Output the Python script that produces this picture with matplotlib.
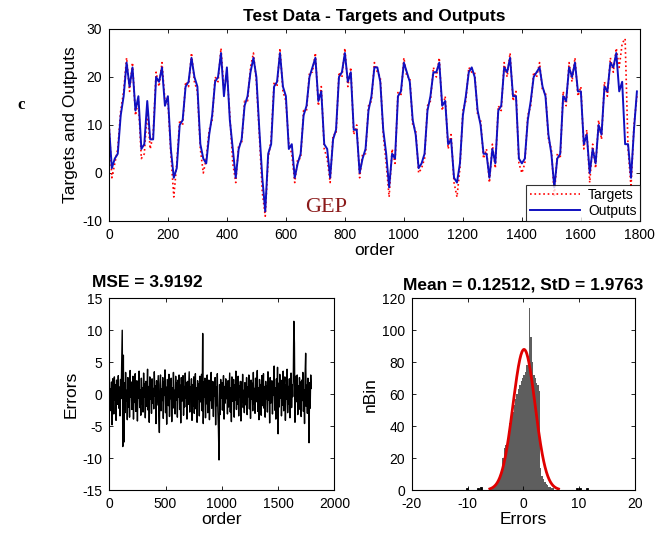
"""GEP test data: targets vs outputs, errors and error histogram"""
import numpy as np
import matplotlib
matplotlib.use('Agg')
import matplotlib.pyplot as plt

# order axis for the top panel (every 10th sample)
order = list(range(0, 1800, 10))

outputs = [
    10, 1, 3, 4, 12, 16, 23, 18, 22, 13, 16, 5, 6, 15, 7, 7, 20, 19, 22, 14,
    16, 5, -1, 1, 10, 11, 18, 19, 24, 20, 18, 6, 3, 2, 8, 12, 19, 20, 25, 16,
    22, 11, 5, -1, 5, 7, 14, 16, 21, 24, 20, 9, -1, -8, 4, 6, 18, 19, 25, 18,
    16, 5, 6, -1, 2, 4, 12, 14, 20, 22, 24, 15, 17, 6, 5, -1, 7, 9, 20, 21,
    25, 19, 21, 9, 9, 0, 3, 5, 13, 16, 22, 22, 19, 9, 4, -3, 4, 3, 16, 17,
    23, 21, 19, 11, 8, 1, 2, 4, 13, 16, 21, 21, 23, 14, 15, 6, 7, -1, -2, 2,
    12, 16, 21, 22, 20, 13, 10, 4, 4, -1, 5, 2, 13, 14, 22, 21, 24, 16, 16, 3,
    2, 3, 11, 15, 20, 21, 22, 18, 16, 8, 4, -3, 3, 4, 16, 15, 22, 20, 23, 17,
    17, 6, 8, 0, 5, 2, 10, 8, 18, 17, 23, 22, 25, 17, 19, 6, 6, -1, 9, 17,
]

targets = [
    11, -1, 2, 5, 13, 17, 24, 17, 23, 12, 15, 3, 4, 13, 5, 8, 21, 18, 23, 15,
    15, 4, -5, 2, 11, 10, 19, 18, 25, 19, 17, 5, 0, 3, 9, 11, 20, 19, 26, 17,
    21, 12, 2, -2, 6, 6, 15, 15, 22, 25, 19, 8, -4, -9, 3, 7, 19, 18, 26, 17,
    15, 6, 4, -2, 3, 3, 13, 13, 21, 21, 25, 14, 18, 5, 3, -2, 8, 8, 21, 20,
    26, 18, 22, 8, 10, -1, 4, 4, 14, 15, 23, 21, 20, 8, 2, -5, 5, 2, 17, 16,
    24, 20, 20, 10, 9, 0, 1, 3, 14, 15, 22, 20, 24, 13, 16, 5, 8, -2, -5, 1,
    13, 15, 22, 21, 21, 12, 11, 3, 5, -2, 6, 1, 14, 13, 23, 20, 25, 15, 17, 2,
    0, 2, 12, 14, 21, 20, 23, 17, 17, 7, 5, -5, 4, 3, 17, 14, 23, 19, 24, 16,
    18, 5, 9, -2, 6, 1, 11, 7, 19, 16, 24, 21, 26, 22, 27, 28, 5, -3, 10, 16,
]

# errors (every 5th sample)
err_order = list(range(0, 1800, 5))
errors = [
    3.1, -1.2, 0.8, -2.6, 1.9, -4.8, 2.4, 0.3, -3.1, 2.7, -0.9, 1.5, -4.1, 2.2, -1.6, 0.4, 2.9, -2.2, 1.1, -3.4,
    2.3, -0.7, 4.4, 10.0, -8.2, 6.1, -7.5, 1.8, -2.9, 3.4, -1.1, 0.6, -4.0, 2.6, -2.0, 1.3, -3.6, 3.7, -0.5, 1.9,
    -2.4, 0.9, 2.8, -3.9, 1.4, -1.3, 3.2, -2.7, 0.2, 2.1, -4.2, 1.7, -0.6, 3.6, -2.1, 0.7, -3.3, 2.5, -1.5, 1.0,
    -2.8, 3.3, -0.4, 1.6, -3.7, 2.0, -1.9, 0.5, 3.9, -2.5, 1.2, -4.4, 2.7, -0.8, 1.8, -3.0, 2.4, -1.4, 0.9, -2.3,
    3.5, -0.3, 1.3, -4.6, 2.1, -1.7, 0.4, 2.9, -3.2, -6.0, 1.5, 3.0, -2.6, 0.8, -1.0, 2.6, -3.8, 1.9, -0.2, 3.8,
    -2.9, 1.1, -4.7, 2.3, 0.1, -1.8, 3.1, -3.5, 1.6, -0.7, 2.5, -4.3, 1.0, -2.2, 3.4, -1.3, 0.6, -3.1, 2.8, -0.9,
    1.7, -3.6, 2.2, -0.5, 3.0, -2.4, 1.4, -4.5, 2.6, -1.1, 0.3, 2.9, -3.3, 1.2, -2.0, 3.3, -0.6, 1.8, -3.9, 2.0,
    -1.6, 0.8, 3.5, -2.8, 1.1, -0.2, 2.4, -4.1, 1.5, -1.9, 2.7, -3.0, 0.6, 3.2, -2.3, 1.0, -4.4, 2.1, -0.8, 1.6,
    -3.4, 2.8, -1.2, 0.4, 3.1, -2.6, 9.5, -4.6, 1.9, -0.4, 2.5, -3.7, 1.3, -1.5, 3.0, -2.9, 0.7, 2.2, -4.0, 1.4,
    -1.0, 3.4, -2.2, 0.9, 2.0, -3.5, 1.7, -0.3, 2.6, -4.8, 1.1, -1.8, 3.2, -2.7, -5.5, -10.3, 1.5, -3.2, 2.3, -0.6,
    1.8, -2.5, 0.5, 2.9, -3.9, 1.2, -1.4, 2.4, -0.7, 1.6, -3.1, 2.1, -2.0, 0.8, 3.3, -2.8, 1.0, -4.3, 2.7, -1.1,
    0.2, 2.3, -3.6, 1.5, -0.9, 3.6, -2.4, 0.7, -1.6, 2.8, -3.4, 1.3, -0.5, 2.0, -4.2, 1.9, -1.3, 3.1, -2.1, 0.6,
    -2.9, 1.8, 0.3, -1.7, 2.6, -3.2, 1.1, -0.4, 3.0, -2.3, 1.4, -3.8, 2.2, -0.8, 1.7, -2.6, 3.4, -1.5, 0.9, -3.0,
    2.5, -1.2, 0.6, 3.7, -2.7, 1.0, -4.0, 2.3, -0.1, 1.5, -3.3, 2.9, -1.8, 0.4, 3.2, -2.2, 1.2, -3.6, 2.0, -0.7,
    1.3, -2.8, 3.5, -0.9, 1.9, -4.5, 2.6, -1.4, 0.8, 2.1, -3.1, 1.6, -0.2, 4.4, -2.5, 1.0, -3.9, 2.4, -1.0, 4.2,
    -6.2, 1.7, -2.0, 3.1, -0.6, 2.2, -3.4, 1.1, -1.7, 3.6, -2.6, 0.5, 2.7, -4.1, 1.4, -0.8, 3.9, -2.9, 1.2, -1.5,
    2.4, -3.7, 0.9, 3.3, -2.1, 1.5, -0.4, 2.0, 11.4, 8.0, -4.4, 2.8, -1.2, 0.6, 3.0, -3.2, 1.3, -2.4, 2.6, -0.8,
    1.9, -3.5, 2.2, -1.0, 3.4, -2.7, 0.7, -4.6, 2.9, 6.4, -1.9, 1.4, -3.0, 2.5, -0.5, -7.6, 1.8, -2.2, 3.0, 0.9,
]

# error histogram, bin width 0.25
bin_centers = [-5.875 + 0.25 * i for i in range(46)]
bin_counts = [1, 1, 2, 2, 3, 4, 6, 9, 13, 20, 26, 28, 32, 37, 42, 45, 49, 53, 57, 60,
              63, 66, 68, 70, 72, 74, 78, 82, 114, 96, 80, 72, 70, 67, 66, 62, 14, 9, 7, 5,
              4, 3, 2, 2, 1, 1]
outlier_centers = [-10.1, -8.1, -7.6, 9.6, 10.1, 11.4]
outlier_counts = [1, 1, 2, 1, 1, 1]

err_mean = 0.12512
err_std = 1.9763
mse = 3.9192
fit_peak = 88

plt.rcParams['font.family'] = ['Liberation Sans', 'DejaVu Sans']
plt.rcParams['axes.unicode_minus'] = False
fig = plt.figure(figsize=(6.6, 5.37), dpi=100)

# top panel
ax1 = fig.add_axes([0.165, 0.5885, 0.8045, 0.3575])
ax1.plot(order, targets, ':', color='red', lw=1.2, label='Targets')
ax1.plot(order, outputs, '-', color='#1010c0', lw=1.4, label='Outputs')
ax1.set_xlim(0, 1800)
ax1.set_ylim(-10, 30)
ax1.set_xticks(range(0, 1801, 200))
ax1.set_yticks(range(-10, 31, 10))
ax1.set_title('Test Data - Targets and Outputs', fontsize=12.5, fontweight='bold', pad=6)
ax1.set_xlabel('order', fontsize=12.5, labelpad=1)
ax1.set_ylabel('Targets and Outputs', fontsize=12.5, labelpad=3)
leg = ax1.legend(loc='lower right', fontsize=10, fancybox=False, edgecolor='k',
                 borderaxespad=0, handlelength=3.6, borderpad=0.25, labelspacing=0.1,
                 handletextpad=0.6)
leg.get_frame().set_linewidth(0.8)
ax1.text(0.41, 0.07, 'GEP', transform=ax1.transAxes, family='Liberation Serif',
         fontsize=16, color='#8b1a1a', ha='center', va='center')
fig.text(0.032, 0.805, 'c', family='Liberation Serif', fontsize=12, fontweight='bold',
         ha='center', va='center')

# errors panel
ax2 = fig.add_axes([0.1656, 0.0875, 0.341, 0.357])
ax2.plot(err_order, errors, '-', color='k', lw=1.0)
ax2.set_xlim(0, 2000)
ax2.set_ylim(-15, 15)
ax2.set_xticks(range(0, 2001, 500))
ax2.set_yticks(range(-15, 16, 5))
ax2.set_xlabel('order', fontsize=12.5, labelpad=1)
ax2.set_ylabel('Errors', fontsize=12.5, labelpad=3)
ax2.text(-0.078, 1.042, 'MSE = %.4f' % mse, transform=ax2.transAxes, fontsize=12.5,
         fontweight='bold', ha='left', va='bottom')

# histogram panel
ax3 = fig.add_axes([0.6238, 0.0875, 0.3383, 0.357])
ax3.bar(bin_centers, bin_counts, width=0.25, color='#5e5e5e', edgecolor='none')
ax3.bar(outlier_centers, outlier_counts, width=0.3, color='k', edgecolor='k', linewidth=0.6)
xf = np.linspace(-6.0, 6.3, 200)
yf = fit_peak * np.exp(-0.5 * ((xf - err_mean) / err_std) ** 2)
ax3.plot(xf, yf, '-', color='#e00000', lw=2)
ax3.set_xlim(-20, 20)
ax3.set_ylim(0, 120)
ax3.set_xticks(range(-20, 21, 10))
ax3.set_yticks(range(0, 121, 20))
ax3.set_xlabel('Errors', fontsize=12.5, labelpad=1)
ax3.set_ylabel('nBin', fontsize=12.5, labelpad=3)
ax3.set_title('Mean = %.5f, StD = %.4f' % (err_mean, err_std), fontsize=12.5,
              fontweight='bold', pad=6)

for ax in (ax1, ax2, ax3):
    ax.tick_params(direction='in', top=True, right=True, labelsize=10, length=3,
                   width=0.6, pad=5)
    for s in ax.spines.values():
        s.set_linewidth(0.8)

fig.savefig('out.png', dpi=100)
